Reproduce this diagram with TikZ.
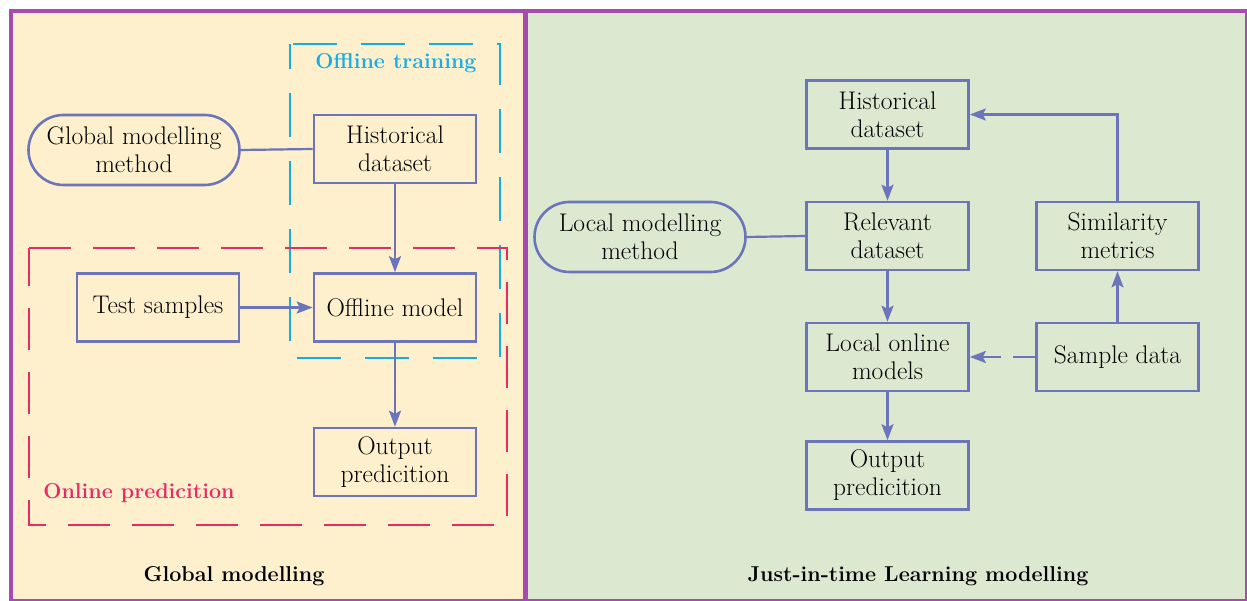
\documentclass[tikz,border=0pt]{standalone}
\usepackage{fontspec}
\usetikzlibrary{arrows.meta,shapes.misc}
\definecolor{framec}{RGB}{166,76,174}
\definecolor{creamc}{RGB}{254,240,205}
\definecolor{greenc}{RGB}{221,232,209}
\definecolor{boxc}{RGB}{108,117,186}
\definecolor{cyanc}{RGB}{22,172,230}
\definecolor{redc}{RGB}{230,44,102}
\tikzset{
  txt/.style={font=\rmfamily\fontsize{25.5}{28}\selectfont},
  stepbox/.style={txt, draw=boxc, line width=2.6pt, minimum width=162pt, minimum height=68pt, inner sep=0pt, align=center},
  methodbox/.style={txt, draw=boxc, line width=2.6pt, rounded rectangle, minimum width=211pt, minimum height=70pt, inner sep=0pt, align=center},
  conn/.style={draw=boxc, line width=2.2pt},
  arr/.style={conn, -{Stealth[length=16pt,width=12pt,inset=3pt]}},
  cyandash/.style={draw=cyanc, line width=2.6pt, dash pattern=on 44pt off 24pt},
  reddash/.style={draw=redc, line width=2.6pt, dash pattern=on 42pt off 22pt},
  caption/.style={font=\rmfamily\fontsize{21.5}{28}\selectfont\bfseries}
}
\begin{document}
\begin{tikzpicture}[x=1pt,y=-1pt]
\useasboundingbox (0,0) rectangle (1247,601);
% panels
\fill[creamc] (11,11) rectangle (525,600);
\fill[greenc] (525,11) rectangle (1246,600);
% frame
\draw[framec, line width=1.8pt] (1246,11) -- (1246,600) -- (11,600);
\draw[framec, line width=4.6pt] (11,602) -- (11,11) -- (1247,11);
\draw[framec, line width=5pt] (525,11) -- (525,601);

% ---- global modelling ----
\draw[cyandash] (293,44) -- (500,44) -- (500,358) -- (290,358) -- (290,44);
\draw[reddash] (29,248) -- (507,248) -- (507,525) -- (29,525) -- cycle;
\node[caption, text=cyanc] (offlab) at (396,63) {Offline training};
\node[caption, text=redc] (onlab) at (139,493) {Online predicition};

\node[methodbox] (gmm) at (134,150) {Global modelling\\method};
\node[stepbox] (hd1) at (395,149) {Historical\\dataset};
\node[stepbox] (ts) at (158,307.5) {Test samples};
\node[stepbox] (om) at (395,307.5) {Offline model};
\node[stepbox] (op1) at (395,462) {Output\\predicition};

\draw[conn] (gmm.east) -- (hd1.west);
\draw[arr] (hd1.south) -- (om.north);
\draw[arr] (ts.east) -- (om.west);
\draw[arr] (om.south) -- (op1.north);

\node[caption] (glab) at (234,576) {Global modelling};

% ---- just-in-time learning ----
\node[stepbox] (hd2) at (887.5,114.5) {Historical\\dataset};
\node[stepbox] (rd) at (887.5,236) {Relevant\\dataset};
\node[methodbox] (lmm) at (640,237) {Local modelling\\method};
\node[stepbox] (lom) at (887.5,357) {Local online\\models};
\node[stepbox] (op2) at (887.5,475.5) {Output\\predicition};
\node[stepbox] (sm) at (1117.5,236) {Similarity\\metrics};
\node[stepbox] (sd) at (1117.5,357) {Sample data};

\draw[arr] (hd2.south) -- (rd.north);
\draw[arr] (rd.south) -- (lom.north);
\draw[arr] (lom.south) -- (op2.north);
\draw[conn] (lmm.east) -- (rd.west);
\draw[arr] (sd.north) -- (sm.south);
\draw[arr] (sm.north) |- (hd2.east);
\draw[arr, dash pattern=on 22pt off 12pt on 60pt off 0pt] (sd.west) -- (lom.east);

\node[caption] (jlab) at (918,576) {Just-in-time Learning modelling};
\end{tikzpicture}
\end{document}
